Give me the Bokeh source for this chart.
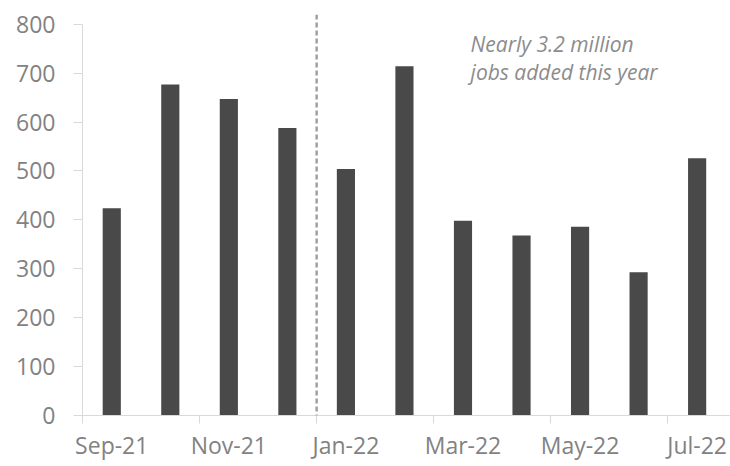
from bokeh.plotting import figure
from bokeh.models import FixedTicker, Span, Label, Range1d, ColumnDataSource
from bokeh.embed import file_html
from bokeh.resources import INLINE

# Data
months = ["Sep-21", "Oct-21", "Nov-21", "Dec-21", "Jan-22", "Feb-22",
          "Mar-22", "Apr-22", "May-22", "Jun-22", "Jul-22"]
jobs_added = [424, 677, 647, 588, 504, 714, 398, 368, 386, 293, 526]
y_ticks = [0, 100, 200, 300, 400, 500, 600, 700, 800]
annotation_text = "Nearly 3.2 million\njobs added this year"
divider_after = "Dec-21"

FONT = "Open Sans"
LABEL_COLOR = "#828282"
AXIS_COLOR = "#d9d9d9"

pos = [i + 0.5 for i in range(len(months))]
src = ColumnDataSource(dict(x=pos, top=jobs_added, month=months))

p = figure(width=730, height=466, output_backend="svg", toolbar_location=None,
           x_range=Range1d(0, 11.07), y_range=Range1d(0, 820),
           min_border_left=82, min_border_right=0, min_border_top=14,
           min_border_bottom=51)
p.outline_line_color = None
p.xgrid.visible = False
p.ygrid.visible = False
p.background_fill_color = "white"
p.border_fill_color = "white"

p.vbar(x="x", top="top", width=0.31, bottom=0, source=src,
       fill_color="#494949", line_color=None)

# divider between Dec-21 and Jan-22
p.add_layout(Span(location=months.index(divider_after) + 1, dimension="height",
                  line_color="#a0a0a0", line_width=2.5, line_dash="5 3"))

# annotation
p.add_layout(Label(x=6.63, y=788, text=annotation_text, text_font=FONT,
                   text_font_style="italic", text_font_size="21px",
                   text_color="#8c8c8c", text_baseline="top",
                   text_line_height=1.0))

# y axis
ya = p.yaxis[0]
ya.ticker = FixedTicker(ticks=y_ticks, minor_ticks=[])
ya.bounds = (0, 800)
ya.axis_line_color = AXIS_COLOR
ya.major_tick_line_color = AXIS_COLOR
ya.major_tick_out = 9
ya.major_tick_in = 0
ya.minor_tick_line_color = None
ya.major_label_text_font = FONT
ya.major_label_text_font_size = "23px"
ya.major_label_text_color = LABEL_COLOR
ya.major_label_standoff = 18

# x axis: labels every other month centred on bars, tick marks at boundaries
xa = p.xaxis[0]
label_pos = pos[::2]
xa.ticker = FixedTicker(ticks=label_pos,
                        minor_ticks=[float(i) for i in range(0, len(months), 2)])
xa.major_label_overrides = {pos[i]: months[i] for i in range(0, len(months), 2)}
xa.axis_line_color = AXIS_COLOR
xa.major_tick_line_color = None
xa.major_tick_out = 0
xa.major_tick_in = 0
xa.minor_tick_line_color = AXIS_COLOR
xa.minor_tick_out = 8
xa.minor_tick_in = 0
xa.major_label_text_font = FONT
xa.major_label_text_font_size = "23px"
xa.major_label_text_color = LABEL_COLOR
xa.major_label_standoff = 5

open("out.html", "w").write(file_html(p, INLINE))
